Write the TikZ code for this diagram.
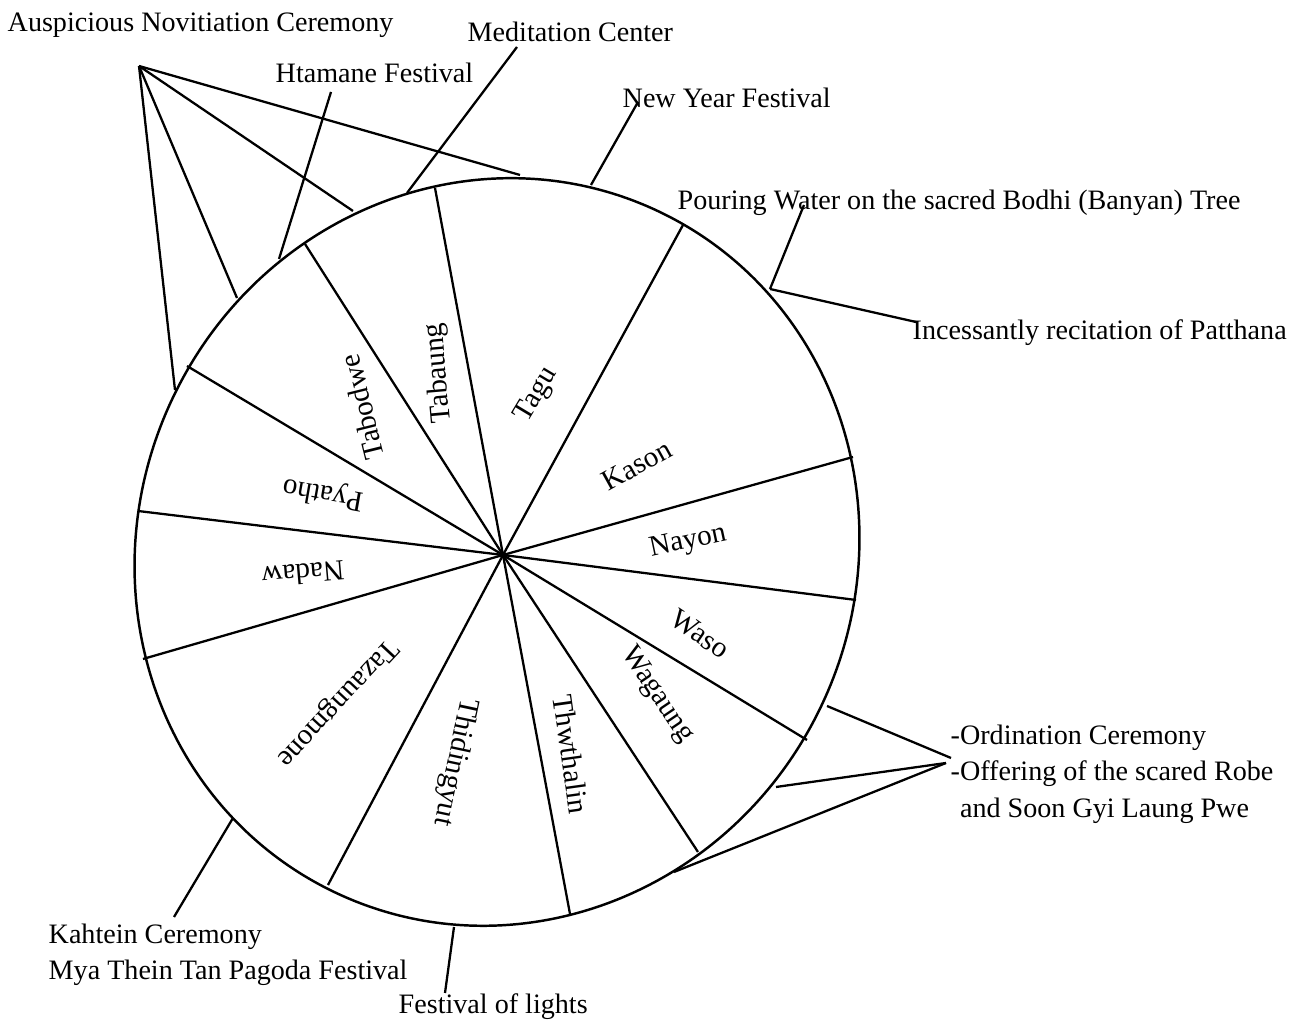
\documentclass[tikz,border=0pt]{standalone}
\usepackage{fontspec}
\setmainfont{Liberation Serif}
\tikzset{
  rim/.style={line width=0.7pt},
  spoke/.style={line width=0.65pt},
  callout/.style={line width=0.65pt},
  month/.style={font=\fontsize{8.3}{10}\selectfont, inner sep=0pt},
  fest/.style={font=\fontsize{8}{10.4}\selectfont, inner sep=0pt, anchor=west, align=left},
}

\begin{document}
\begin{tikzpicture}[x=0.1mm, y=0.1mm]
    \useasboundingbox (0,0) rectangle (1303,1030);
    % wheel of months
    \draw[rim, rotate around={64.5:(497,478)}] (497,478) ellipse [x radius=377, y radius=359];
    \coordinate (hub) at (503,475);
    \foreach \x/\y [count=\i] in {435/842, 305/786, 187/664, 138/519, 143/371, 328/145,
        570/116, 698/178, 807/290, 856/430, 853/573, 683/805}
      \coordinate (s\i) at (\x,\y);
    \foreach \i in {1,...,12}
      \draw[spoke] (hub) -- (s\i);
    \foreach \x/\y/\a/\m in {537/635/59/Tagu, 637/565/29/Kason, 688/488/12/Nayon,
        700/396/-34/Waso, 657/335/-56/Wagaung, 571/276/-82/Thwthalin,
        455/268/-102/Thidingyut, 337/327/-133/Tazaungmone, 303/456/185/Nadaw,
        323/537/170/Pyatho, 362/623/104/Tabodwe, 439/657/95/Tabaung}
      \node[month, rotate=\a] (\m) at (\x,\y) {\m};
    % festivals
    \node[fest] (aus) at (7,1005) {Auspicious Novitiation Ceremony};
    \coordinate (ausfork) at (139,964);
    \foreach \x/\y [count=\i] in {520/855, 353/819, 237/732, 175/640}
      \coordinate (ausrim\i) at (\x,\y);
    \foreach \i in {1,...,4}
      \draw[callout] (ausfork) -- (ausrim\i);
    \node[fest] (medi) at (467,998) {Meditation Center};
    \coordinate (medirim) at (407,837); \coordinate (mediend) at (517,983);
    \draw[callout] (medirim) -- (mediend);
    \node[fest] (htam) at (275,957) {Htamane Festival};
    \coordinate (htamrim) at (279,771); \coordinate (htamend) at (331,938);
    \draw[callout] (htamrim) -- (htamend);
    \node[fest] (newyear) at (622,932) {New Year Festival};
    \coordinate (newrim) at (591,845); \coordinate (newend) at (638,928);
    \draw[callout] (newrim) -- (newend);
    \node[fest] (bodhi) at (677,827) {Pouring Water on the sacred Bodhi (Banyan) Tree};
    \node[fest] (patt) at (912,697) {Incessantly recitation of Patthana};
    \coordinate (bodhirim) at (770,741);
    \coordinate (bodhiend) at (804,825); \coordinate (pattend) at (916,708);
    \draw[callout] (bodhirim) -- (bodhiend);
    \draw[callout] (bodhirim) -- (pattend);
    \node[fest] (robe) at (950,256) {-Ordination Ceremony\\-Offering of the scared Robe\\\phantom{-}and Soon Gyi Laung Pwe};
    \coordinate (robefork1) at (951,272); \coordinate (robefork2) at (946,267);
    \coordinate (roberim1) at (827,324); \coordinate (roberim2) at (776,243);
    \coordinate (roberim3) at (674,158);
    \draw[callout] (roberim1) -- (robefork1);
    \draw[callout] (roberim2) -- (robefork2);
    \draw[callout] (roberim3) -- (robefork2);
    \node[fest] (kahtein) at (48,75) {Kahtein Ceremony\\Mya Thein Tan Pagoda Festival};
    \coordinate (kahrim) at (233,212); \coordinate (kahend) at (174,113);
    \draw[callout] (kahrim) -- (kahend);
    \node[fest] (lights) at (398,23) {Festival of lights};
    \coordinate (lightrim) at (454,103); \coordinate (lightend) at (445,37);
    \draw[callout] (lightrim) -- (lightend);
\end{tikzpicture}
\end{document}
